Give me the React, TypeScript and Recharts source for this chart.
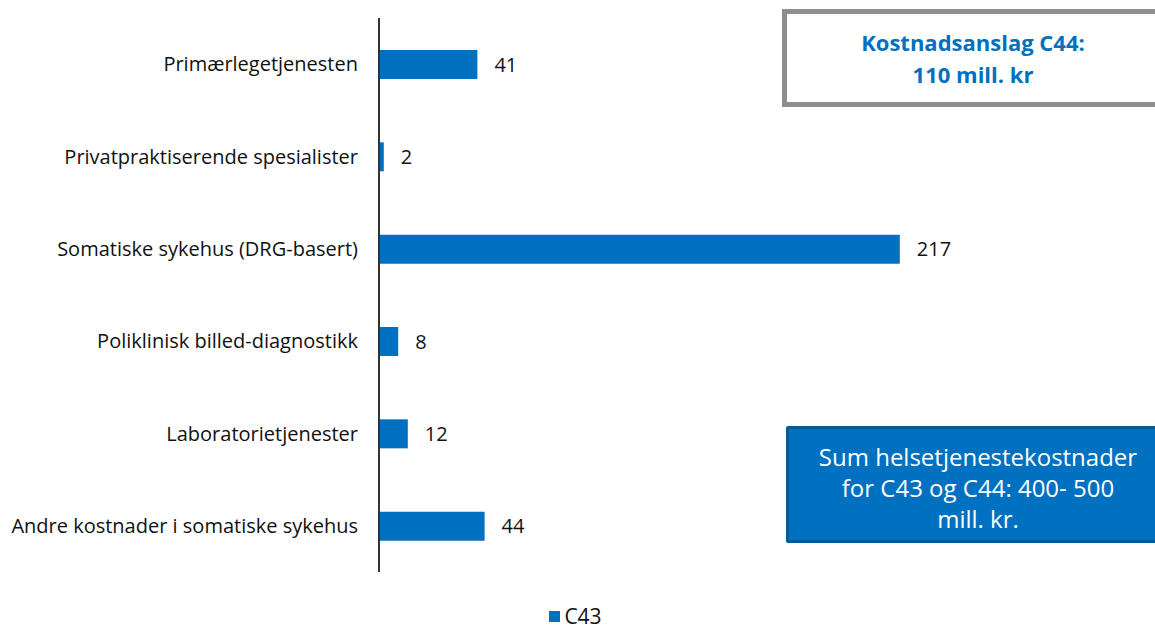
import { Bar, BarChart, LabelList, Legend, XAxis, YAxis } from "recharts";

const categories = [
  "Primærlegetjenesten",
  "Privatpraktiserende spesialister",
  "Somatiske sykehus (DRG-basert)",
  "Poliklinisk billed-diagnostikk",
  "Laboratorietjenester",
  "Andre kostnader i somatiske sykehus",
];
const c43 = [41, 2, 217, 8, 12, 44];
const seriesName = "C43";
const estimateTitle = ["Kostnadsanslag C44:", "110 mill. kr"];
const totalNote = ["Sum helsetjenestekostnader", "for C43 og C44: 400- 500", "mill. kr."];

const BLUE = "#0070C0";
const FONT = "'Open Sans', sans-serif";

const data = categories.map((name, i) => ({ name, [seriesName]: c43[i] }));

function LegendContent() {
  return (
    <div style={{ display: "flex", justifyContent: "center", alignItems: "center", fontFamily: FONT, fontSize: 21, color: "#111", paddingRight: 4 }}>
      <span style={{ width: 11, height: 11, background: BLUE, marginRight: 4, display: "inline-block" }} />
      {seriesName}
    </div>
  );
}

export default function App() {
  return (
    <div style={{ position: "absolute", left: 0, top: 0, width: 1155, height: 630, background: "#fff", fontFamily: FONT }}>
      <BarChart layout="vertical" width={1155} height={630} data={data} margin={{ top: 18, right: 176, bottom: 30, left: 0 }}>
        <XAxis type="number" domain={[0, 250]} hide />
        <YAxis
          type="category"
          dataKey="name"
          width={379}
          axisLine={{ stroke: "#333", strokeWidth: 2 }}
          tickLine={false}
          tickMargin={15}
          tick={{ fill: "#111", fontSize: 20, fontFamily: FONT }}
        />
        <Legend verticalAlign="bottom" content={<LegendContent />} wrapperStyle={{ left: 0, width: 1155, bottom: 0 }} />
        <Bar dataKey={seriesName} fill={BLUE} barSize={29} isAnimationActive={false}>
          <LabelList dataKey={seriesName} position="right" offset={17} fill="#111" fontSize={20} fontFamily={FONT} />
        </Bar>
      </BarChart>

      {/* cost estimate callout, top right */}
      <div
        style={{
          position: "absolute", left: 782, top: 9, width: 380, height: 98, boxSizing: "border-box",
          border: "5px solid #8e8e90", background: "#fff", display: "flex", flexDirection: "column",
          justifyContent: "center", alignItems: "center", color: BLUE, fontWeight: 700, fontSize: 22, lineHeight: "32px",
        }}
      >
        {estimateTitle.map((t) => <div key={t} style={{ marginLeft: 2 }}>{t}</div>)}
      </div>

      {/* total cost note, bottom right */}
      <div
        style={{
          position: "absolute", left: 786, top: 426, width: 372, height: 117, boxSizing: "border-box",
          border: "3px solid #005b9a", borderRadius: 2, background: BLUE, display: "flex", flexDirection: "column",
          justifyContent: "center", alignItems: "center", color: "#fff", fontSize: 24, lineHeight: "31px", paddingTop: 6,
        }}
      >
        {totalNote.map((t) => <div key={t} style={{ marginLeft: 12 }}>{t}</div>)}
      </div>
    </div>
  );
}
